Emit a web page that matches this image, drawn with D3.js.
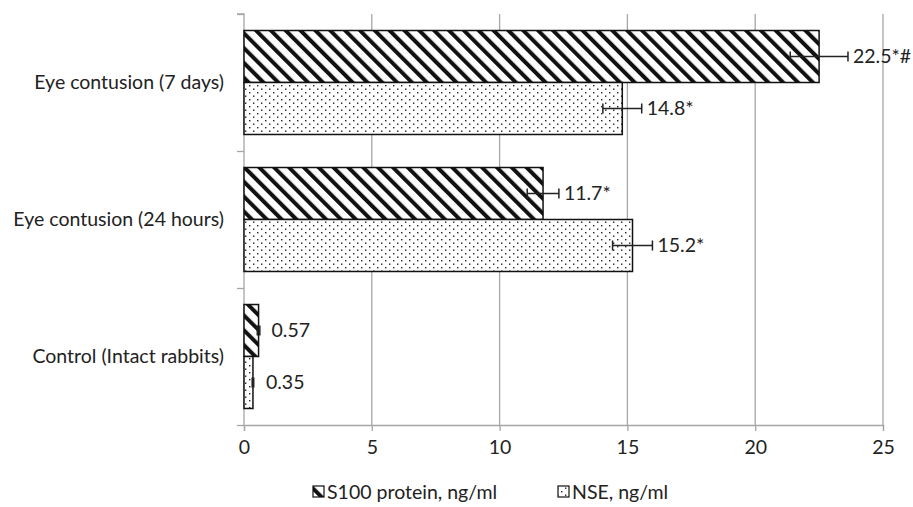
<!DOCTYPE html>
<html>
<head>
<meta charset="utf-8">
<script src="https://cdn.jsdelivr.net/npm/d3@7"></script>
<style>
  body { margin: 0; background: #fff; }
  text { font-family: Lato, "Open Sans", sans-serif; fill: #222; }
</style>
</head>
<body>
<div class="chart"></div>
<script>
// chart data (top to bottom)
const categories = ['Eye contusion (7 days)', 'Eye contusion (24 hours)', 'Control (Intact rabbits)'];
const s100 = [22.5, 11.7, 0.57];
const s100Err = [1.13, 0.62, 0.05];
const s100Labels = ['22.5*#', '11.7*', '0.57'];
const nse = [14.8, 15.2, 0.35];
const nseErr = [0.76, 0.78, 0.03];
const nseLabels = ['14.8*', '15.2*', '0.35'];
const xTicks = [0, 5, 10, 15, 20, 25];
const seriesNames = ['S100 protein, ng/ml', 'NSE, ng/ml'];

const width = 913;
const height = 507;
const plot = { left: 244, right: 883, top: 14, bottom: 425 };
const fontSize = 19.5;

const svg = d3.select('.chart')
  .append('svg')
  .attr('width', width)
  .attr('height', height);

// patterns
const defs = svg.append('defs');
const hatch = defs.append('pattern')
  .attr('id', 'hatch')
  .attr('patternUnits', 'userSpaceOnUse')
  .attr('width', 10.5)
  .attr('height', 10.5)
  .attr('patternTransform', 'rotate(-45)');
hatch.append('rect').attr('width', 10.5).attr('height', 10.5).attr('fill', '#fff');
hatch.append('rect').attr('width', 4).attr('height', 10.5).attr('fill', '#111');

const dots = defs.append('pattern')
  .attr('id', 'dots')
  .attr('patternUnits', 'userSpaceOnUse')
  .attr('width', 8)
  .attr('height', 7);
dots.append('rect').attr('width', 8).attr('height', 7).attr('fill', '#fff');
dots.append('rect').attr('x', 1).attr('y', 1).attr('width', 1.4).attr('height', 1.4).attr('fill', '#222');
dots.append('rect').attr('x', 5).attr('y', 4.5).attr('width', 1.4).attr('height', 1.4).attr('fill', '#222');

// scales
const x = d3.scaleLinear().domain([0, 25]).range([plot.left, plot.right]);
const y = d3.scaleBand().domain(categories).range([plot.top, plot.bottom])
  .paddingInner(0.241).paddingOuter(0.1205);
const ySub = d3.scaleBand().domain(['s100', 'nse']).range([0, y.bandwidth()]);

// vertical grid lines
svg.append('g')
  .selectAll('line')
  .data(xTicks.slice(1))
  .enter()
  .append('line')
  .attr('x1', d => x(d)).attr('x2', d => x(d))
  .attr('y1', plot.top).attr('y2', plot.bottom)
  .attr('stroke', '#a6a6a6')
  .attr('stroke-width', 1.3);

// bottom axis
const xAxis = d3.axisBottom(x).tickValues(xTicks).tickSize(6).tickPadding(9);
const xAxisGroup = svg.append('g')
  .attr('transform', `translate(0, ${plot.bottom})`)
  .call(xAxis);
xAxisGroup.selectAll('path, line').attr('stroke', '#a6a6a6').attr('stroke-width', 1.3);
xAxisGroup.selectAll('text').attr('font-size', fontSize).attr('font-family', 'Lato').attr('fill', '#222');

// left axis (category boundaries)
const yEdges = d3.scaleLinear().domain([0, categories.length]).range([plot.bottom, plot.top]);
const yAxisGroup = svg.append('g')
  .attr('transform', `translate(${plot.left}, 0)`)
  .call(d3.axisLeft(yEdges).ticks(categories.length).tickSize(7).tickFormat(''));
yAxisGroup.select('.domain').attr('d', `M-7,${plot.top}H0V${plot.bottom}`);
yAxisGroup.selectAll('path, line').attr('stroke', '#a6a6a6').attr('stroke-width', 1.3);

// category labels
svg.append('g')
  .selectAll('text')
  .data(categories)
  .enter()
  .append('text')
  .attr('x', 224)
  .attr('y', d => y(d) + y.bandwidth() / 2)
  .attr('dy', '0.35em')
  .attr('text-anchor', 'end')
  .attr('font-size', fontSize)
  .text(d => d);

// bars
const series = [
  { key: 's100', values: s100, err: s100Err, labels: s100Labels, fill: 'url(#hatch)' },
  { key: 'nse', values: nse, err: nseErr, labels: nseLabels, fill: 'url(#dots)' }
];

series.forEach(s => {
  const g = svg.append('g');
  categories.forEach((c, i) => {
    const y0 = y(c) + ySub(s.key);
    const h = ySub.bandwidth();
    const cy = y0 + h / 2;
    g.append('rect')
      .attr('x', x(0))
      .attr('y', y0)
      .attr('width', x(s.values[i]) - x(0))
      .attr('height', h)
      .attr('fill', s.fill)
      .attr('stroke', '#111')
      .attr('stroke-width', 1.5);

    // error bar
    const lo = x(s.values[i] - s.err[i]);
    const hi = x(s.values[i] + s.err[i]);
    g.append('line').attr('x1', lo).attr('x2', hi).attr('y1', cy).attr('y2', cy)
      .attr('stroke', '#222').attr('stroke-width', 1.5);
    [lo, hi].forEach(px => {
      g.append('line').attr('x1', px).attr('x2', px).attr('y1', cy - 5).attr('y2', cy + 5)
        .attr('stroke', '#222').attr('stroke-width', 1.5);
    });

    // value label
    const lx = Math.max(hi + 5, x(s.values[i]) + 13);
    g.append('text')
      .attr('x', lx)
      .attr('y', cy)
      .attr('dy', '0.35em')
      .attr('font-size', fontSize)
      .text(s.labels[i]);
  });
});

// legend
const legendPos = [313, 558];
const legend = svg.append('g');
series.forEach((s, i) => {
  legend.append('rect')
    .attr('x', legendPos[i])
    .attr('y', 486)
    .attr('width', 11)
    .attr('height', 11)
    .attr('fill', s.fill)
    .attr('stroke', '#111')
    .attr('stroke-width', 1.2);
  legend.append('text')
    .attr('x', legendPos[i] + 14)
    .attr('y', 492)
    .attr('dy', '0.35em')
    .attr('font-size', fontSize)
    .text(seriesNames[i]);
});
</script>
</body>
</html>
